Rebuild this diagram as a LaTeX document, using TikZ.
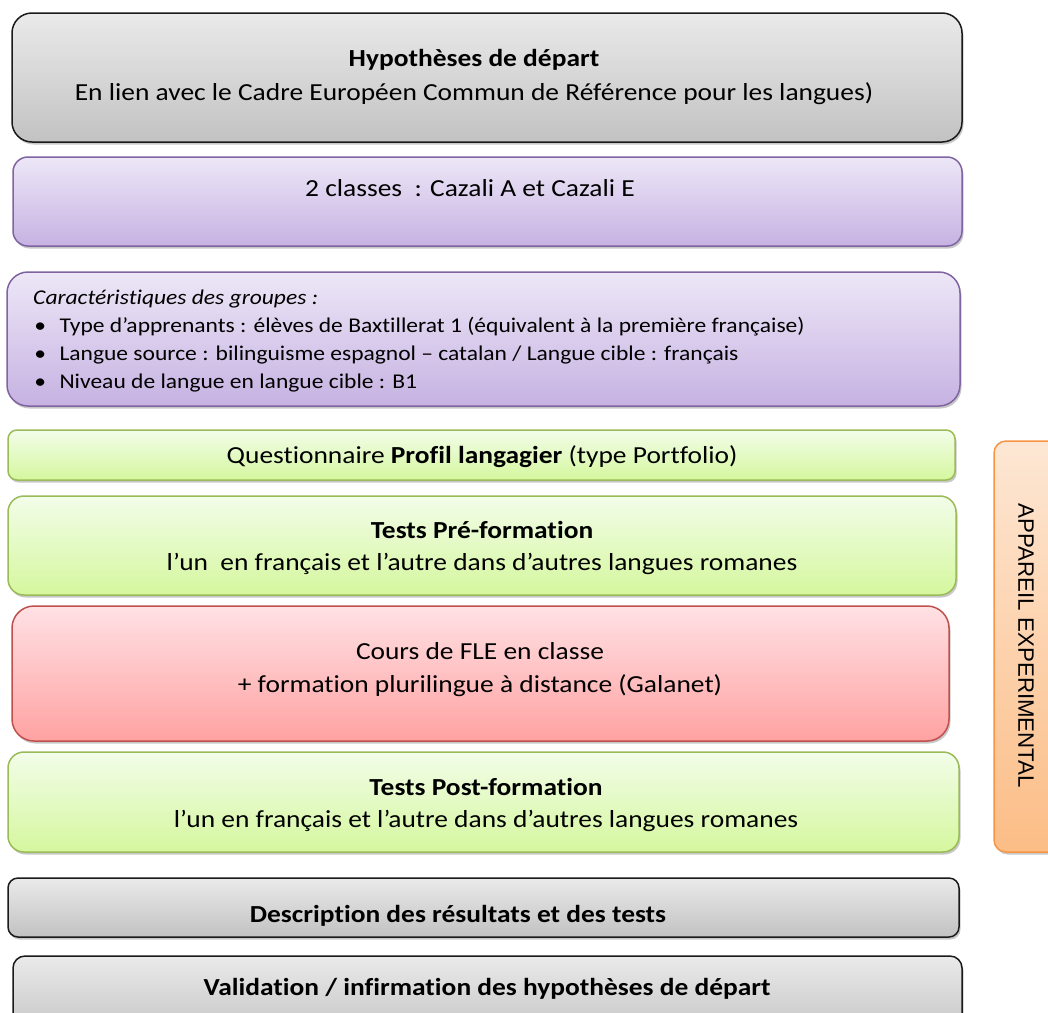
\documentclass[tikz,border=0pt]{standalone}
\usepackage{fontspec}
\setmainfont{Carlito}[Ligatures=NoCommon]
\newfontfamily\arialfont{Liberation Sans}
\usetikzlibrary{shadows}
\definecolor{grayTop}{HTML}{EAEAEA}
\definecolor{grayBot}{HTML}{C2C2C2}
\definecolor{grayLine}{HTML}{1A1A1A}
\definecolor{purTop}{HTML}{EDE7F7}
\definecolor{purBot}{HTML}{C6B2E2}
\definecolor{purLine}{HTML}{8064A2}
\definecolor{grnTop}{HTML}{F2FDE9}
\definecolor{grnBot}{HTML}{D5F79E}
\definecolor{grnLine}{HTML}{9BBB59}
\definecolor{redTop}{HTML}{FFE1E4}
\definecolor{redBot}{HTML}{FFA2A2}
\definecolor{redLine}{HTML}{C0504D}
\definecolor{orTop}{HTML}{FDE7D4}
\definecolor{orBot}{HTML}{FCBD86}
\definecolor{orLine}{HTML}{F79646}
\tikzset{
  box/.style={rectangle, line width=1.5pt, inner sep=0pt,
    drop shadow={shadow xshift=1.5pt, shadow yshift=-2.5pt, opacity=0.3, fill=black!70}},
  graybox/.style={box, draw=grayLine, top color=grayTop, bottom color=grayBot},
  purbox/.style={box, draw=purLine, top color=purTop, bottom color=purBot},
  grnbox/.style={box, draw=grnLine, top color=grnTop, bottom color=grnBot},
  redbox/.style={box, draw=redLine, top color=redTop, bottom color=redBot},
  orbox/.style={box, draw=orLine, top color=orTop, bottom color=orBot},
  big/.style={font=\fontsize{24.5}{29}\selectfont, inner sep=0pt, xscale=1.12},
  small/.style={font=\fontsize{21}{28}\selectfont, inner sep=0pt, xscale=1.12},
}
\newcommand{\mkbox}[7]{% name, style, x1, y1, x2, y2, radius
  \node[#2, rounded corners=#7, minimum width={(#5-#3)*1pt}, minimum height={(#6-#4)*1pt}] (#1) at ({(#3+#5)/2},{(#4+#6)/2}) {};}
\begin{document}
\begin{tikzpicture}[x=1pt,y=-1pt]
\clip (0,0) rectangle (1048,1012);
\fill[white] (0,0) rectangle (1048,1012);
% boxes
\mkbox{hyp}{graybox}{12}{13}{962}{142}{20pt}
\mkbox{cla}{purbox}{13}{157}{962}{246}{15pt}
\mkbox{car}{purbox}{7}{272}{960}{406}{21pt}
\mkbox{que}{grnbox}{8}{430}{955}{480}{9pt}
\mkbox{pre}{grnbox}{8}{496}{956}{595}{16pt}
\mkbox{cou}{redbox}{12}{606}{949}{741}{22pt}
\mkbox{pos}{grnbox}{8}{752}{959}{852}{16pt}
\mkbox{des}{graybox}{8}{878}{959}{937}{10pt}
\mkbox{val}{graybox}{13}{956}{962}{1040}{12pt}
\mkbox{app}{orbox}{994}{441}{1080}{852}{12pt}
% texts
\node[big] (hypA) at (474,60) {\textbf{Hypothèses de départ}};
\node[big] (hypB) at (474,94) {En lien avec le Cadre Européen Commun de Référence pour les langues)};
\node[big] (claA) at (470,188) {2 classes ~: Cazali A et Cazali E};
\node[small, anchor=west, align=left] (carA) at (33,341) {%
\textit{Caractéristiques des groupes :}\\
\makebox[23.5pt][l]{\hspace{1pt}•}Type d’apprenants : élèves de Baxtillerat 1 (équivalent à la première française)\\
\makebox[23.5pt][l]{\hspace{1pt}•}Langue source : bilinguisme espagnol – catalan / Langue cible : français\\
\makebox[23.5pt][l]{\hspace{1pt}•}Niveau de langue en langue cible : B1};
\node[big] (queA) at (482,457) {Questionnaire \textbf{Profil langagier} (type Portfolio)};
\node[big] (preA) at (482,530) {\textbf{Tests Pré-formation}};
\node[big] (preB) at (482,564) {l’un ~en français et l’autre dans d’autres langues romanes};
\node[big] (couA) at (480,651) {Cours de FLE en classe};
\node[big] (couB) at (480,686) {+ formation plurilingue à distance (Galanet)};
\node[big] (posA) at (486,787) {\textbf{Tests Post-formation}};
\node[big] (posB) at (486,821) {l’un en français et l’autre dans d’autres langues romanes};
\node[big] (desA) at (458,916) {\textbf{Description des résultats et des tests}};
\node[big] (valA) at (487,989) {\textbf{Validation / infirmation des hypothèses de départ}};
\node[rotate=-90, font=\arialfont\fontsize{22.3}{24}\selectfont, inner sep=0pt] (appA) at (1026,646) {APPAREIL EXPERIMENTAL};
\end{tikzpicture}
\end{document}
